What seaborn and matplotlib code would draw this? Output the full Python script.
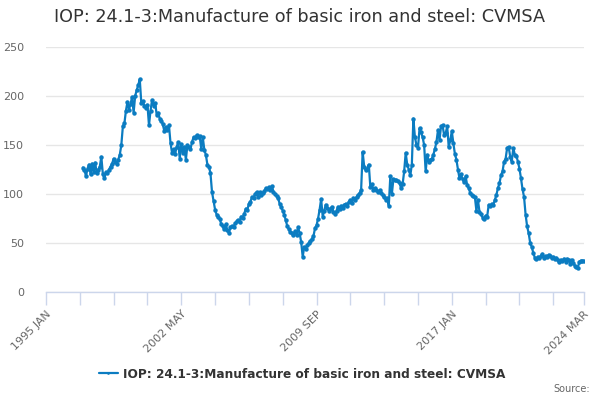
import pandas as pd
import numpy as np
import matplotlib.pyplot as plt
import seaborn as sns

# IOP monthly index, 1997 JAN .. 2024 MAR
title = 'IOP: 24.1-3:Manufacture of basic iron and steel: CVMSA'
start_year = 1997
values = [
    127, 125, 118, 126, 130, 120, 131, 122, 132, 121, 125, 128,   # 1997
    138, 120, 116, 122, 121, 125, 128, 131, 136, 133, 131, 135,   # 1998
    140, 150, 169, 172, 185, 194, 186, 192, 199, 183, 200, 206,   # 1999
    211, 217, 193, 195, 190, 188, 191, 170, 185, 196, 190, 193,   # 2000
    181, 183, 177, 175, 171, 164, 168, 165, 170, 152, 142, 146,   # 2001
    141, 148, 153, 136, 151, 142, 148, 135, 150, 148, 146, 153,   # 2002
    158, 157, 160, 158, 159, 146, 158, 145, 140, 130, 128, 121,   # 2003
    102, 93, 84, 79, 77, 75, 69, 67, 64, 69, 63, 60,              # 2004
    66, 67, 66, 70, 72, 73, 71, 77, 76, 80, 85, 84,               # 2005
    90, 92, 97, 96, 100, 102, 97, 102, 99, 101, 103, 106,         # 2006
    105, 107, 104, 108, 102, 100, 98, 96, 90, 87, 83, 79,         # 2007
    73, 67, 64, 61, 60, 58, 62, 58, 66, 60, 51, 36,               # 2008
    46, 44, 48, 50, 52, 54, 57, 65, 68, 75, 84, 95,               # 2009
    77, 83, 89, 86, 83, 85, 87, 82, 80, 83, 87, 85,               # 2010
    88, 86, 89, 90, 88, 92, 94, 91, 96, 94, 97, 99,               # 2011
    101, 104, 143, 128, 124, 126, 130, 107, 110, 104, 106, 104,   # 2012
    102, 104, 101, 99, 97, 94, 96, 88, 118, 100, 115, 114,        # 2013
    114, 113, 111, 106, 110, 123, 142, 130, 125, 119, 130, 177,   # 2014
    158, 150, 147, 167, 163, 158, 150, 123, 140, 133, 135, 136,   # 2015
    140, 146, 153, 165, 155, 169, 170, 160, 162, 169, 148, 155,   # 2016
    164, 152, 141, 135, 125, 116, 120, 115, 112, 118, 109, 106,   # 2017
    101, 99, 98, 97, 83, 94, 82, 80, 76, 75, 78, 77,              # 2018
    89, 88, 90, 89, 94, 99, 106, 111, 119, 123, 133, 136,         # 2019
    147, 148, 138, 133, 147, 140, 139, 133, 126, 116, 105, 97,    # 2020
    79, 67, 60, 50, 46, 40, 35, 34, 36, 35, 37, 39,               # 2021
    35, 37, 36, 38, 37, 35, 36, 34, 35, 33, 31, 33,               # 2022
    32, 34, 31, 34, 33, 29, 33, 30, 27, 26, 25, 31,               # 2023
    32, 32, 32,                                                   # 2024
]
y_ticks = [0, 50, 100, 150, 200, 250]

# category axis starts 1995 JAN
months = ['JAN', 'FEB', 'MAR', 'APR', 'MAY', 'JUN', 'JUL', 'AUG', 'SEP', 'OCT', 'NOV', 'DEC']
categories = [f'{y} {m}' for y in range(1995, 2025) for m in months][:351]
offset = (start_year - 1995) * 12

df = pd.DataFrame({'pos': np.arange(offset, offset + len(values)), 'value': values})

sns.set_style('white')
plt.rcParams['font.family'] = ['DejaVu Sans']

fig = plt.figure(figsize=(6, 4), dpi=100)
ax = fig.add_axes([46 / 600, 1 - 292 / 400, (584 - 46) / 600, (292 - 47) / 400])

line_col = '#0b7cc1'
sns.lineplot(data=df, x='pos', y='value', ax=ax, color=line_col, linewidth=1.6,
             marker='o', markersize=3.2, markeredgewidth=0, label=title)

ax.set_xlim(0, len(categories) - 1)
ax.set_ylim(0, 250)
ax.set_yticks(y_ticks)
ax.yaxis.grid(True, color='#e6e6e6', linewidth=1)
ax.set_axisbelow(True)

tick_pos = list(range(0, 331, 22)) + [350]
ax.set_xticks(tick_pos)
ax.set_xticklabels([categories[p] if p in (0, 88, 176, 264, 350) else '' for p in tick_pos],
                   rotation=45, ha='right', rotation_mode='anchor')
ax.tick_params(axis='x', bottom=True, direction='out', length=9, width=1, color='#ccd6eb',
               labelsize=8, labelcolor='#666666', pad=3)
ax.tick_params(axis='y', left=False, length=0, labelsize=8, labelcolor='#666666', pad=16)

for s in ['top', 'right', 'left']:
    ax.spines[s].set_visible(False)
ax.spines['bottom'].set_color('#ccd6eb')
ax.spines['bottom'].set_linewidth(1)
ax.set_xlabel('')
ax.set_ylabel('')

ax.get_legend().remove()
handles, labels = ax.get_legend_handles_labels()
fig.legend(handles, labels, loc='center', bbox_to_anchor=(302 / 600, 1 - 374 / 400),
           frameon=False, prop={'weight': 'bold', 'size': 8.7}, labelcolor='#333333',
           handlelength=1.6, handletextpad=0.4, markerscale=0.6)

fig.text(0.5, 1 - 17 / 400, title, ha='center', va='center', fontsize=12.7, color='#333333')
fig.text(590 / 600, 1 - 389 / 400, 'Source:', ha='right', va='center', fontsize=7, color='#666666')

fig.savefig('out.png', dpi=100)
